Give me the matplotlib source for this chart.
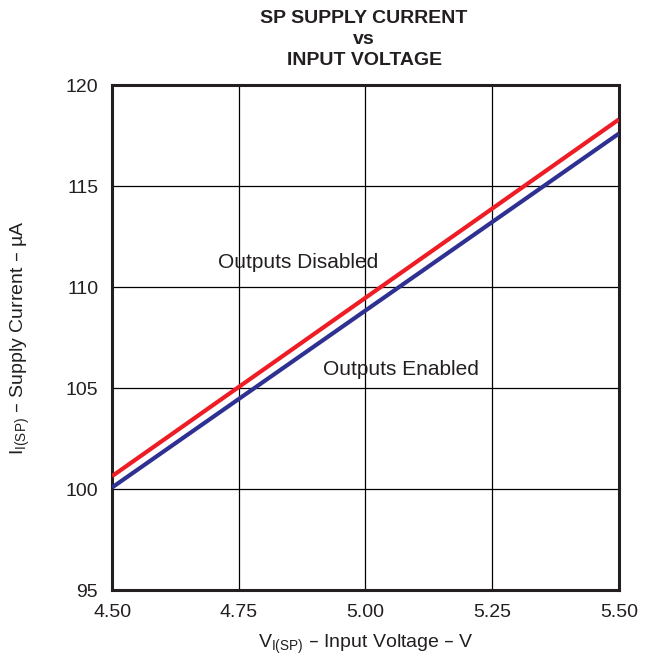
import numpy as np
import matplotlib.pyplot as plt

plt.rcParams['font.family'] = ['Liberation Sans', 'DejaVu Sans']

# supply current vs input voltage
voltage = [4.50, 5.50]
i_disabled = [100.64, 118.3]
i_enabled = [100.08, 117.6]

xticks = [4.50, 4.75, 5.00, 5.25, 5.50]
yticks = [95, 100, 105, 110, 115, 120]

fig = plt.figure(figsize=(6.48, 6.6), dpi=100)
ax = fig.add_axes([0.173, 0.106, 0.782, 0.765])

ax.plot(voltage, i_disabled, color='#ee1c25', lw=3, solid_capstyle='butt', zorder=3)
ax.plot(voltage, i_enabled, color='#2e3192', lw=3, solid_capstyle='butt', zorder=3)

ax.set_xlim(4.5, 5.5)
ax.set_ylim(95, 120)
ax.set_xticks(xticks)
ax.set_xticklabels(['%.2f' % v for v in xticks])
ax.set_yticks(yticks)
ax.grid(True, color='black', lw=0.9)
ax.tick_params(length=0, labelsize=14, colors='#231f20')
ax.tick_params(axis='x', pad=10)
ax.tick_params(axis='y', pad=10)
for s in ax.spines.values():
    s.set_linewidth(2.2)
    s.set_color('#231f20')

ax.text(4.867, 111.24, 'Outputs Disabled', fontsize=15, ha='center', va='center', color='#231f20')
ax.text(5.07, 105.94, 'Outputs Enabled', fontsize=15, ha='center', va='center', color='#231f20')

ax.set_xlabel(r'V$_{\mathregular{I(SP)}}$ – Input Voltage – V', fontsize=14, color='#231f20', labelpad=8)
ax.set_ylabel(r'I$_{\mathregular{I(SP)}}$ – Supply Current – µA', fontsize=14, color='#231f20', labelpad=24)
fig.text(0.562, 0.985, 'SP SUPPLY CURRENT\nvs\nINPUT VOLTAGE', fontsize=14, fontweight='bold',
         ha='center', va='top', linespacing=1.3, color='#231f20')

fig.savefig('out.png', dpi=100)
